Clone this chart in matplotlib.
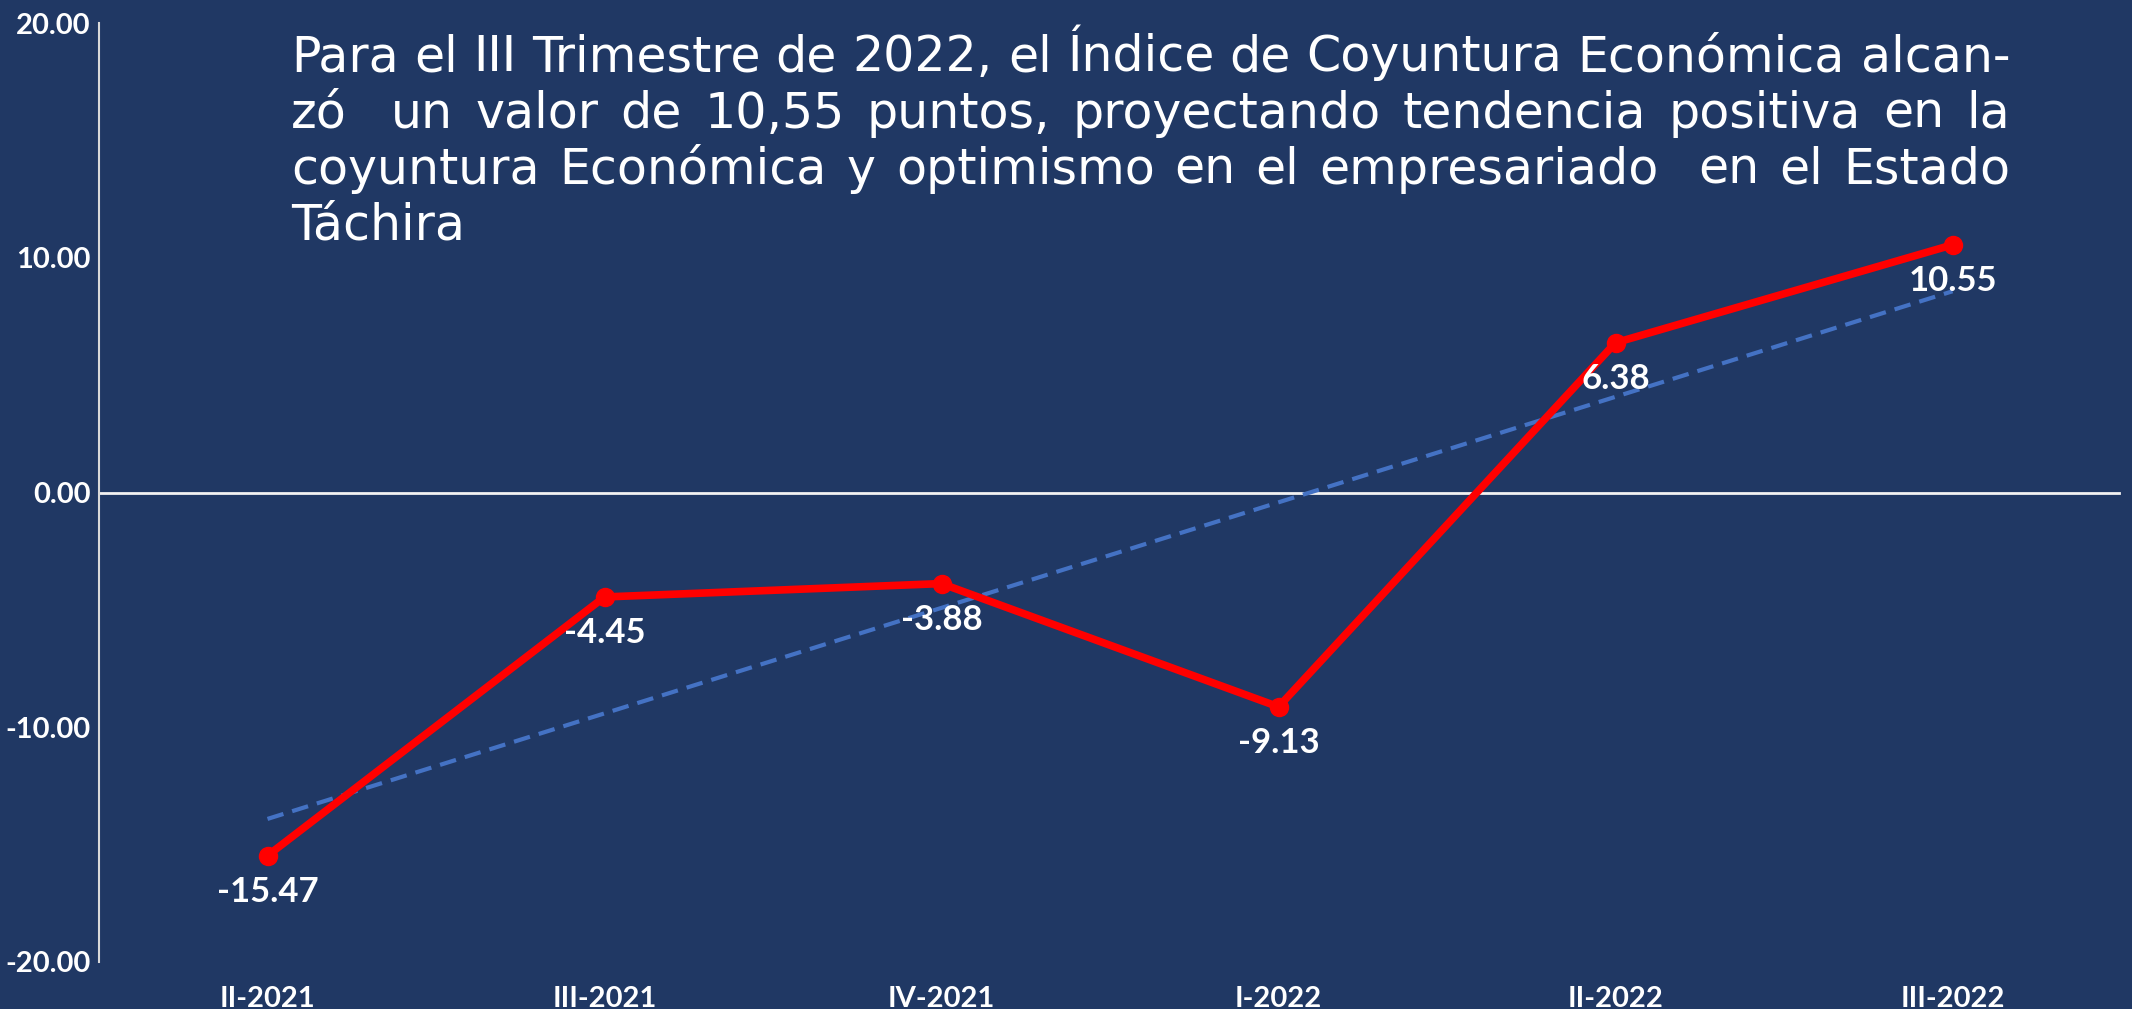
import numpy as np
import matplotlib.pyplot as plt

# datos del índice
quarters = ['II-2021', 'III-2021', 'IV-2021', 'I-2022', 'II-2022', 'III-2022']
values = [-15.47, -4.45, -3.88, -9.13, 6.38, 10.55]
yticks = [-20, -10, 0, 10, 20]

note_lines = [
    'Para el III Trimestre de 2022, el Índice de Coyuntura Económica alcan-',
    'zó  un valor de 10,55 puntos, proyectando tendencia positiva en la',
    'coyuntura Económica y optimismo en el empresariado  en el Estado',
    'Táchira',
]

bg = '#203864'
W, H = 2132, 1009

fig = plt.figure(figsize=(W / 100, H / 100), dpi=100, facecolor=bg)
ax = fig.add_axes([99 / W, 1 - 962 / H, (2121 - 99) / W, (962 - 23) / H])
ax.set_facecolor(bg)

x = np.arange(len(values))
# tendencia lineal
coef = np.polyfit(x, values, 1)
ax.plot(x, np.polyval(coef, x), color='#4472C4', lw=3, ls=(0, (4, 2.2)), zorder=2)

ax.plot(x, values, color='#FF0000', lw=5.5, marker='o', ms=13, zorder=3)

ax.axhline(0, xmin=0, xmax=(2119 - 99) / (2121 - 99), color='#F2F2F2', lw=2, zorder=1)

lab_font = dict(family=['Lato', 'DejaVu Sans'], weight='bold')
for xi, v in zip(x, values):
    ax.annotate(f'{v:.2f}', (xi, v), xytext=(0, -26), textcoords='offset points',
                ha='center', va='center', color='white', fontsize=25, **lab_font)

ax.set_xlim(-0.5, len(values) - 0.5)
ax.set_ylim(-20, 20)
ax.set_yticks(yticks)
ax.set_yticklabels([f'{t:.2f}' for t in yticks])
ax.set_xticks(x)
ax.set_xticklabels(quarters)
ax.tick_params(axis='both', length=0, colors='white', labelsize=21)
ax.tick_params(axis='x', pad=17)
ax.tick_params(axis='y', pad=6)
for lab in ax.get_xticklabels() + ax.get_yticklabels():
    lab.set_fontfamily(['Lato', 'DejaVu Sans'])
    lab.set_fontweight('bold')

for s in ['top', 'right', 'bottom']:
    ax.spines[s].set_visible(False)
ax.spines['left'].set_color('#D9D9D9')
ax.spines['left'].set_linewidth(1.5)

# texto justificado
renderer = fig.canvas.get_renderer()
left_px, right_px = 291, 2010
line_y = [57, 114, 170, 226]
note_font = dict(family='DejaVu Sans', fontsize=30, color='white')

# ajustar tamaño para que la primera línea llene el ancho
t = fig.text(0, 0, note_lines[0], **note_font)
w0 = t.get_window_extent(renderer).width
t.remove()
note_font['fontsize'] = min(40, 30 * (right_px - left_px) / w0)

for i, (line, yy) in enumerate(zip(note_lines, line_y)):
    words = line.split(' ')
    last = i == len(note_lines) - 1
    if last:
        fig.text(left_px / W, 1 - yy / H, line, ha='left', va='center', **note_font)
        continue
    widths = []
    for w in words:
        if w == '':
            widths.append(0)
            continue
        t = fig.text(0, 0, w, **note_font)
        widths.append(t.get_window_extent(renderer).width)
        t.remove()
    gap = (right_px - left_px - sum(widths)) / (len(words) - 1)
    xp = left_px
    for w, wd in zip(words, widths):
        if w:
            fig.text(xp / W, 1 - yy / H, w, ha='left', va='center', **note_font)
        xp += wd + gap

fig.savefig('out.png', dpi=100, facecolor=bg)
